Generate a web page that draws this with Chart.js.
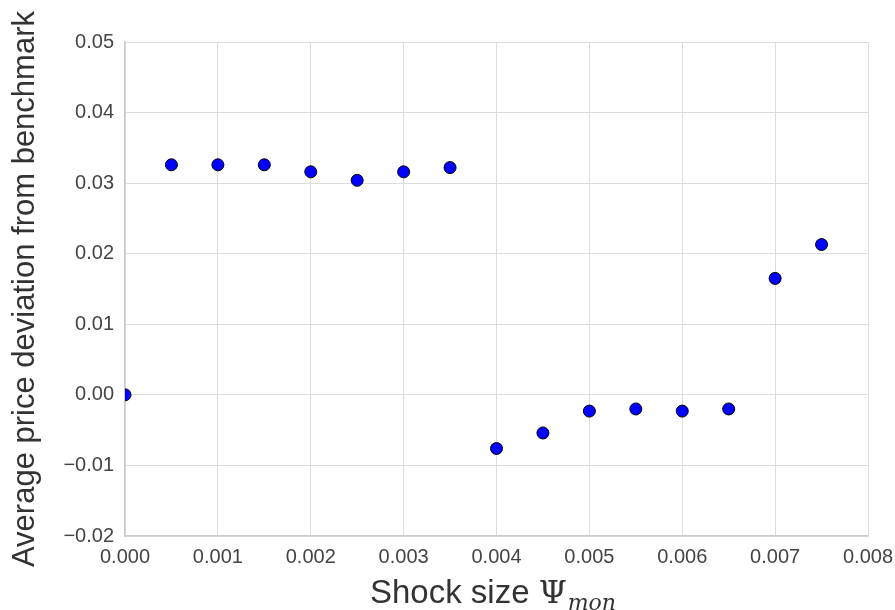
<!DOCTYPE html>
<html>
<head>
<meta charset="utf-8">
<script src="https://cdn.jsdelivr.net/npm/chart.js@4"></script>
<style>
  body { margin: 0; background: #fff; }
  #wrap { width: 895px; height: 610px; }
</style>
</head>
<body>
<div id="wrap"><canvas id="js--chart--1" width="895" height="610"></canvas></div>
<script>
// shock sizes (x) and average price deviation (y)
const shockSizes = [0.0, 0.0005, 0.001, 0.0015, 0.002, 0.0025, 0.003, 0.0035,
  0.004, 0.0045, 0.005, 0.0055, 0.006, 0.0065, 0.007, 0.0075];
const priceDeviation = [0.0, 0.0326, 0.0326, 0.0326, 0.0316, 0.0304, 0.0316, 0.0322,
  -0.0076, -0.0054, -0.0023, -0.0020, -0.0023, -0.0020, 0.0165, 0.0213];

const xTicks = [0, 0.001, 0.002, 0.003, 0.004, 0.005, 0.006, 0.007, 0.008];
const yTicks = [-0.02, -0.01, 0, 0.01, 0.02, 0.03, 0.04, 0.05];

const xTitle = "Shock size ";
const xTitleSymbol = "\u03A8";
const xTitleSub = "mon";
const yTitle = "Average price deviation from benchmark";

function fmt(v, d) {
  return v.toFixed(d).replace('-', '\u2212');
}

// axis titles drawn by hand so the subscript can be done
const titlePlugin = {
  id: 'titles',
  afterDraw(chart) {
    const ctx = chart.ctx;
    const area = chart.chartArea;
    ctx.save();
    ctx.fillStyle = '#333';

    // y title
    ctx.font = '31px "Liberation Sans", Arial';
    ctx.textAlign = 'center';
    ctx.textBaseline = 'middle';
    ctx.translate(25, (area.top + area.bottom) / 2);
    ctx.rotate(-Math.PI / 2);
    ctx.fillText(yTitle, 0, 0);
    ctx.setTransform(1, 0, 0, 1, 0, 0);

    // x title
    ctx.textAlign = 'left';
    ctx.textBaseline = 'alphabetic';
    const f1 = '33px "Liberation Sans", Arial';
    const f2 = '32px "DejaVu Serif", serif';
    const f3 = 'italic 22px "DejaVu Serif", serif';
    ctx.font = f1; const w1 = ctx.measureText(xTitle).width;
    ctx.font = f2; const w2 = ctx.measureText(xTitleSymbol).width;
    ctx.font = f3; const w3 = ctx.measureText(xTitleSub).width;
    let x = (area.left + area.right) / 2 - (w1 + w2 + w3) / 2 - 4;
    const base = 603;
    ctx.font = f1; ctx.fillText(xTitle, x, base); x += w1;
    ctx.font = f2; ctx.fillText(xTitleSymbol, x, base); x += w2 + 1;
    ctx.font = f3; ctx.fillText(xTitleSub, x, base + 7);
    ctx.restore();
  }
};

Chart.defaults.font.family = '"Liberation Sans", Arial, sans-serif';

const data = {
  datasets: [{
    label: 'deviation',
    data: shockSizes.map((s, i) => ({ x: s, y: priceDeviation[i] })),
    backgroundColor: '#0000ff',
    borderColor: '#000000',
    borderWidth: 1,
    pointRadius: 6,
    pointHoverRadius: 6,
  }]
};

const config = {
  type: 'scatter',
  data: data,
  plugins: [titlePlugin],
  options: {
    responsive: false,
    animation: false,
    layout: { padding: { top: 42, right: 27, left: 0, bottom: 0 } },
    plugins: { legend: { display: false }, tooltip: { enabled: false } },
    scales: {
      x: {
        type: 'linear',
        min: xTicks[0],
        max: xTicks[xTicks.length - 1],
        afterFit: (s) => { s.height = 74; s.paddingRight = 0; },
        afterBuildTicks: (s) => { s.ticks = xTicks.map(v => ({ value: v })); },
        grid: { color: '#dddddd', lineWidth: 1, drawTicks: false },
        border: { color: '#cccccc', width: 1.5 },
        ticks: {
          padding: 9,
          color: '#444',
          font: { size: 20 },
          maxRotation: 0,
          callback: (v) => fmt(v, 3),
        },
      },
      y: {
        type: 'linear',
        min: yTicks[0],
        max: yTicks[yTicks.length - 1],
        afterFit: (s) => { s.width = 125; },
        afterBuildTicks: (s) => { s.ticks = yTicks.map(v => ({ value: v })); },
        grid: { color: '#dddddd', lineWidth: 1, drawTicks: false },
        border: { color: '#cccccc', width: 1.5 },
        ticks: {
          padding: 11,
          color: '#444',
          font: { size: 20 },
          callback: (v) => fmt(v, 2),
        },
      },
    },
  },
};

new Chart(document.getElementById("js--chart--1"), config);
</script>
</body>
</html>
